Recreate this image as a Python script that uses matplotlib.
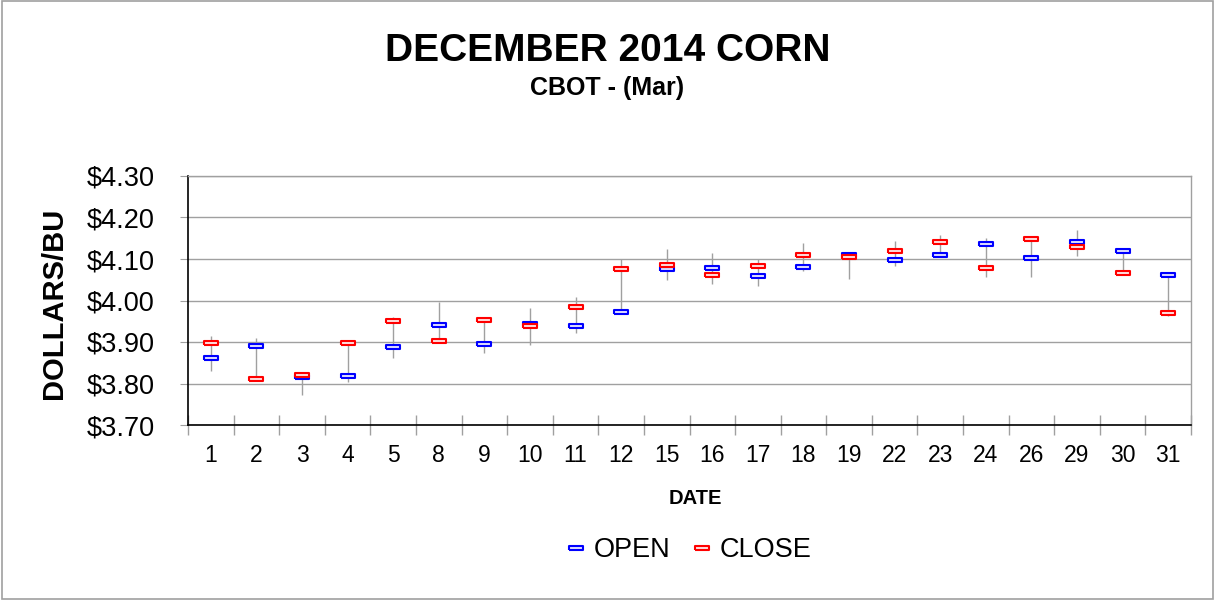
import numpy as np
import matplotlib
matplotlib.use("Agg")
import matplotlib.pyplot as plt
from matplotlib.patches import Rectangle
from matplotlib.ticker import FixedLocator, FuncFormatter

matplotlib.rcParams['font.family'] = ['Liberation Sans', 'DejaVu Sans']

# 2014年12月 玉米期货(3月合约) 日线数据
dates = ["1", "2", "3", "4", "5", "8", "9", "10", "11", "12", "15",
         "16", "17", "18", "19", "22", "23", "24", "26", "29", "30", "31"]
open_price = [3.861, 3.890, 3.816, 3.818, 3.888, 3.941, 3.895, 3.943, 3.938, 3.973, 4.076,
              4.078, 4.058, 4.080, 4.110, 4.098, 4.110, 4.135, 4.102, 4.141, 4.119, 4.061]
high_price = [3.914, 3.909, 3.822, 3.905, 3.960, 3.997, 3.960, 3.983, 4.009, 4.100, 4.124,
              4.114, 4.100, 4.139, 4.110, 4.143, 4.158, 4.150, 4.147, 4.169, 4.127, 4.061]
low_price = [3.830, 3.812, 3.772, 3.803, 3.862, 3.900, 3.874, 3.893, 3.922, 3.973, 4.050,
             4.040, 4.034, 4.070, 4.053, 4.084, 4.110, 4.057, 4.057, 4.108, 4.066, 3.962]
close_price = [3.898, 3.812, 3.820, 3.898, 3.951, 3.902, 3.953, 3.938, 3.985, 4.076, 4.086,
               4.061, 4.082, 4.110, 4.105, 4.119, 4.140, 4.078, 4.147, 4.128, 4.066, 3.970]

x = np.arange(len(dates))

fig = plt.figure(figsize=(12.15, 6), dpi=100)
ax = fig.add_axes([188 / 1215, 1 - 425 / 600, (1191 - 188) / 1215, (425 - 176) / 600])

# 外框
fig.patches.append(Rectangle((0.0015, 0.002), 0.997, 0.996, transform=fig.transFigure,
                             fill=False, edgecolor="#a0a0a0", linewidth=1.2))

# 最高-最低竖线
ax.vlines(x, low_price, high_price, color="#a0a0a0", linewidth=1, zorder=2)

# 开盘/收盘标记(扁矩形)
bar_marker = [(-1, -0.25), (1, -0.25), (1, 0.25), (-1, 0.25), (-1, -0.25)]
ax.plot(x, open_price, linestyle="none", marker=bar_marker, markersize=9.5,
        markerfacecolor="#e0e0ff", markeredgecolor="#0000ff", markeredgewidth=1.5,
        label="OPEN", zorder=3)
ax.plot(x, close_price, linestyle="none", marker=bar_marker, markersize=9.5,
        markerfacecolor="#ffe0e0", markeredgecolor="#ff0000", markeredgewidth=1.5,
        label="CLOSE", zorder=3)

ax.set_xlim(-0.5, len(dates) - 0.5)
ax.set_ylim(3.70, 4.30)
ax.set_yticks(np.arange(3.70, 4.301, 0.10))
ax.yaxis.set_major_formatter(FuncFormatter(lambda v, p: "${:.2f}".format(v)))
ax.grid(axis="y", color="#a0a0a0", linewidth=1)
ax.set_axisbelow(True)

ax.set_xticks(x)
ax.set_xticklabels(dates)
ax.xaxis.set_minor_locator(FixedLocator(np.arange(-0.5, len(dates), 1.0)))
ax.tick_params(axis="x", which="major", length=0, labelsize=16.5, pad=14)
ax.tick_params(axis="x", which="minor", length=15, direction="inout", color="#a0a0a0", width=1)
ax.tick_params(axis="y", which="major", length=6, direction="out", color="#a0a0a0",
               labelsize=19.5, pad=18)

for side in ["left", "bottom"]:
    ax.spines[side].set_color("black")
    ax.spines[side].set_linewidth(1.2)
for side in ["top", "right"]:
    ax.spines[side].set_color("#a0a0a0")
    ax.spines[side].set_linewidth(1)

fig.text(0.5, 1 - 51 / 600, "DECEMBER 2014 CORN", ha="center", va="center",
         fontsize=28, fontweight="bold")
fig.text(0.5, 1 - 88 / 600, "CBOT - (Mar)", ha="center", va="center",
         fontsize=18, fontweight="bold")
fig.text(54 / 1215, 1 - 303 / 600, "DOLLARS/BU", ha="center", va="center",
         rotation=90, fontsize=21, fontweight="bold")
fig.text(695 / 1215, 1 - 499 / 600, "DATE", ha="center", va="center",
         fontsize=14.5, fontweight="bold")

fig.legend(loc="center", bbox_to_anchor=(689 / 1215, 1 - 550 / 600), ncol=2,
           frameon=False, fontsize=19.5, handlelength=0.7, handletextpad=0.3,
           columnspacing=0.8, markerscale=1.0)

fig.savefig("out.png", dpi=100)
